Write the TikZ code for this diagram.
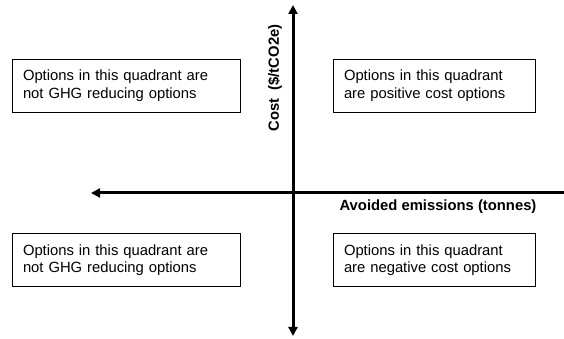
\documentclass[tikz,border=0pt]{standalone}
\usepackage{fontspec}
\setmainfont{Liberation Sans}
\usetikzlibrary{arrows.meta}

\tikzset{
    axisline/.style={line width=3pt, -{Triangle[length=9pt,width=9pt]}},
    optbox/.style={draw, line width=0.8pt, align=left, inner xsep=11pt, inner ysep=0pt, minimum height=53pt},
    axislabel/.style={font=\fontsize{14.8}{17.5}\selectfont\bfseries}
}

\begin{document}
\begin{tikzpicture}[x=1pt, y=1pt, font=\fontsize{14.8}{17.5}\selectfont]
            \useasboundingbox (0,0) rectangle (564,339);
            % axis ends
            \coordinate (costtop) at (293,334);
            \coordinate (costbot) at (293,3);
            \coordinate (emisleft) at (91,146);
            \coordinate (emisright) at (564,146);
            \draw[axisline, {Triangle[length=9pt,width=9pt]}-{Triangle[length=9pt,width=9pt]}] (costbot) -- (costtop);
            \draw[axisline] (emisright) -- (emisleft);
            \node[axislabel, rotate=90] (costlabel) at (275,261) {Cost~~(\$/tCO2e)};
            \node[axislabel] (emislabel) at (438,132) {Avoided emissions (tonnes)};
            % quadrant boxes
            \foreach \nm/\cx/\cy/\tw/\txt in {
                topleft/126/253.5/206/{Options in this quadrant are\\not GHG reducing options},
                topright/434/253.5/180/{Options in this quadrant\\are positive cost options},
                botleft/126/79/206/{Options in this quadrant are\\not GHG reducing options},
                botright/434/79/180/{Options in this quadrant\\are negative cost options}}
            {
                \node[optbox, text width=\tw pt] (box-\nm) at (\cx,\cy) {\txt};
            }
        \end{tikzpicture}
\end{document}
